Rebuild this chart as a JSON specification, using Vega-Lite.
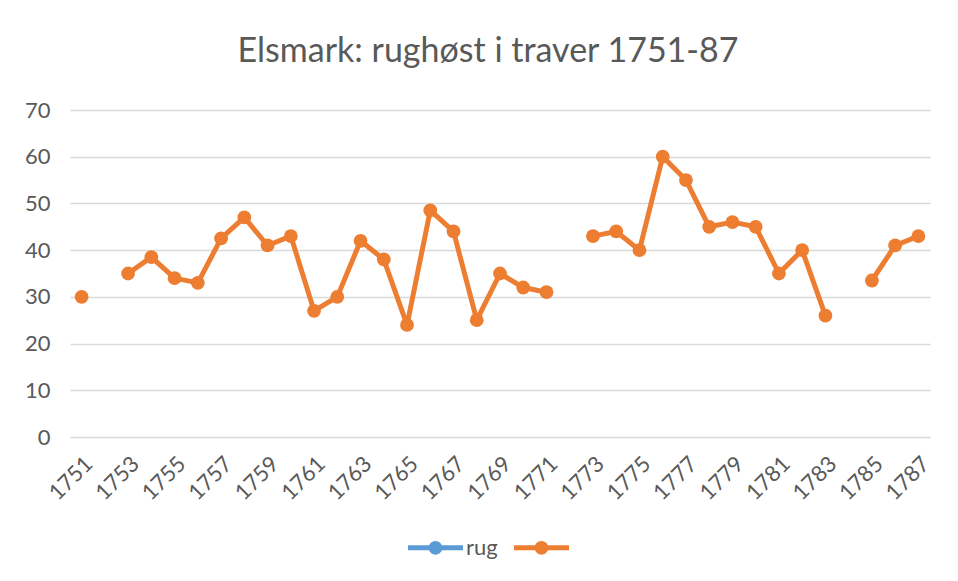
{
  "$schema": "https://vega.github.io/schema/vega-lite/v6.json",
  "autosize": {"type": "none"},
  "width": 860,
  "height": 327,
  "padding": {"left": 70, "top": 110, "right": 28, "bottom": 144},
  "background": "white",
  "title": {
    "text": "Elsmark: rughøst i traver 1751-87",
    "fontSize": 34,
    "fontWeight": "normal",
    "font": "Lato",
    "color": "#595959",
    "anchor": "middle",
    "dx": -12,
    "offset": 30
  },
  "config": {
    "view": {"stroke": null},
    "font": "Lato",
    "mark": {"invalid": "break-paths-show-domains"}
  },
  "data": {
    "values": [
      {"year": 1751, "traver": 30, "serie": ""},
      {"year": 1752, "traver": null, "serie": ""},
      {"year": 1753, "traver": 35, "serie": ""},
      {"year": 1754, "traver": 38.5, "serie": ""},
      {"year": 1755, "traver": 34, "serie": ""},
      {"year": 1756, "traver": 33, "serie": ""},
      {"year": 1757, "traver": 42.5, "serie": ""},
      {"year": 1758, "traver": 47, "serie": ""},
      {"year": 1759, "traver": 41, "serie": ""},
      {"year": 1760, "traver": 43, "serie": ""},
      {"year": 1761, "traver": 27, "serie": ""},
      {"year": 1762, "traver": 30, "serie": ""},
      {"year": 1763, "traver": 42, "serie": ""},
      {"year": 1764, "traver": 38, "serie": ""},
      {"year": 1765, "traver": 24, "serie": ""},
      {"year": 1766, "traver": 48.5, "serie": ""},
      {"year": 1767, "traver": 44, "serie": ""},
      {"year": 1768, "traver": 25, "serie": ""},
      {"year": 1769, "traver": 35, "serie": ""},
      {"year": 1770, "traver": 32, "serie": ""},
      {"year": 1771, "traver": 31, "serie": ""},
      {"year": 1772, "traver": null, "serie": ""},
      {"year": 1773, "traver": 43, "serie": ""},
      {"year": 1774, "traver": 44, "serie": ""},
      {"year": 1775, "traver": 40, "serie": ""},
      {"year": 1776, "traver": 60, "serie": ""},
      {"year": 1777, "traver": 55, "serie": ""},
      {"year": 1778, "traver": 45, "serie": ""},
      {"year": 1779, "traver": 46, "serie": ""},
      {"year": 1780, "traver": 45, "serie": ""},
      {"year": 1781, "traver": 35, "serie": ""},
      {"year": 1782, "traver": 40, "serie": ""},
      {"year": 1783, "traver": 26, "serie": ""},
      {"year": 1784, "traver": null, "serie": ""},
      {"year": 1785, "traver": 33.5, "serie": ""},
      {"year": 1786, "traver": 41, "serie": ""},
      {"year": 1787, "traver": 43, "serie": ""}
    ]
  },
  "mark": {
    "type": "line",
    "strokeWidth": 5,
    "strokeCap": "round",
    "strokeJoin": "round",
    "point": {"filled": true, "size": 190, "opacity": 1}
  },
  "encoding": {
    "x": {
      "field": "year",
      "type": "ordinal",
      "scale": {"paddingOuter": 0.5},
      "sort": null,
      "axis": {
        "title": null,
        "values": [1751, 1753, 1755, 1757, 1759, 1761, 1763, 1765, 1767, 1769, 1771, 1773, 1775, 1777, 1779, 1781, 1783, 1785, 1787],
        "labelAngle": -45,
        "labelAlign": "right",
        "labelBaseline": "top",
        "labelFontSize": 22,
        "labelColor": "#595959",
        "labelPadding": 16,
        "ticks": false,
        "domain": false,
        "grid": false
      }
    },
    "y": {
      "field": "traver",
      "type": "quantitative",
      "scale": {"domain": [0, 70], "nice": false, "zero": true},
      "axis": {
        "title": null,
        "values": [0, 10, 20, 30, 40, 50, 60, 70],
        "labelFontSize": 22,
        "labelColor": "#595959",
        "labelPadding": 20,
        "ticks": false,
        "domain": false,
        "grid": true,
        "gridColor": "#d9d9d9",
        "gridWidth": 1.3
      }
    },
    "color": {
      "field": "serie",
      "type": "nominal",
      "scale": {"domain": ["rug", ""], "range": ["#5B9BD5", "#ED7D31"]},
      "legend": {
        "title": null,
        "orient": "none",
        "direction": "horizontal",
        "legendX": 338,
        "legendY": 410,
        "symbolType": "M-1,-0.09H1V0.09H-1Z M-0.25,0A0.25,0.25 0 1,1 0.25,0A0.25,0.25 0 1,1 -0.25,0Z",
        "symbolSize": 3025,
        "symbolStrokeWidth": 0,
        "labelFontSize": 22,
        "labelColor": "#595959",
        "labelOffset": 3,
        "columnPadding": 16,
        "encode": {
          "symbols": {
            "update": {
              "fill": {"scale": "color", "field": "value"},
              "strokeWidth": {"value": 0},
              "opacity": {"value": 1}
            }
          }
        }
      }
    }
  }
}
